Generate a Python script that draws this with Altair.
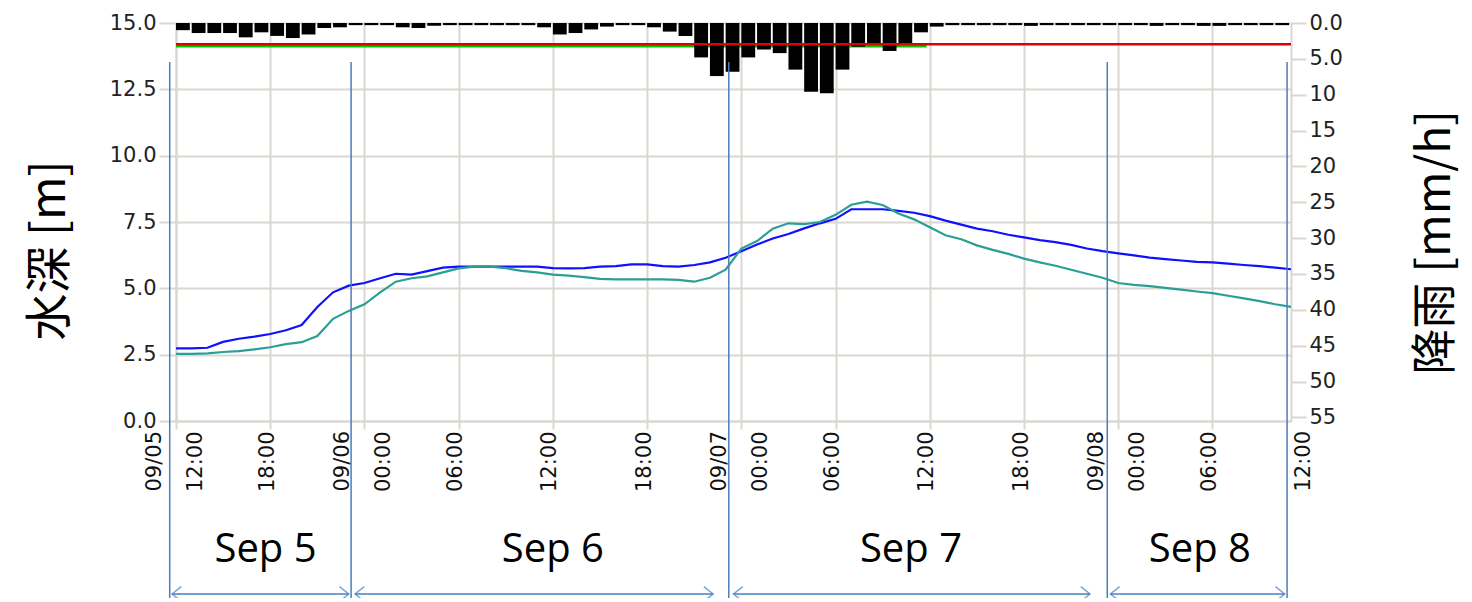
import altair as alt
import pandas as pd

# ---------------- data (hours since 09/05 12:00) ----------------
hours = list(range(0, 72))
obs_level = [2.74, 2.74, 2.76, 2.98, 3.10, 3.18, 3.28, 3.42, 3.62, 4.30,
             4.85, 5.10, 5.20, 5.38, 5.55, 5.52, 5.65, 5.78, 5.82, 5.82,
             5.82, 5.82, 5.82, 5.82, 5.76, 5.75, 5.76, 5.82, 5.84, 5.90,
             5.90, 5.84, 5.82, 5.88, 5.98, 6.15, 6.40, 6.65, 6.88, 7.05,
             7.26, 7.45, 7.62, 7.98, 7.98, 7.98, 7.92, 7.85, 7.72, 7.55,
             7.40, 7.25, 7.15, 7.02, 6.92, 6.82, 6.74, 6.64, 6.50, 6.40,
             6.32, 6.24, 6.16, 6.10, 6.05, 6.00, 5.98, 5.93, 5.88, 5.84, 5.78, 5.72]
calc_level = [2.53, 2.53, 2.55, 2.60, 2.63, 2.70, 2.78, 2.90, 2.97, 3.20,
              3.85, 4.15, 4.40, 4.85, 5.25, 5.38, 5.45, 5.60, 5.75, 5.82,
              5.82, 5.76, 5.66, 5.60, 5.52, 5.48, 5.42, 5.36, 5.34, 5.34,
              5.34, 5.34, 5.32, 5.25, 5.40, 5.70, 6.50, 6.78, 7.25, 7.45,
              7.42, 7.50, 7.77, 8.15, 8.27, 8.14, 7.82, 7.60, 7.30, 7.00,
              6.85, 6.62, 6.45, 6.30, 6.12, 5.98, 5.85, 5.70, 5.55, 5.40,
              5.20, 5.13, 5.08, 5.02, 4.95, 4.88, 4.82, 4.72, 4.62, 4.52, 4.40, 4.30]

rain_hours = list(range(0, 71))
rain = [1.0, 1.4, 1.4, 1.4, 2.0, 1.3, 1.8, 2.1, 1.6, 0.7,
        0.6, 0.3, 0.3, 0.3, 0.6, 0.7, 0.4, 0.3, 0.3, 0.3,
        0.3, 0.3, 0.3, 0.6, 1.6, 1.4, 0.9, 0.5, 0.3, 0.3,
        0.6, 1.2, 1.8, 4.8, 7.4, 6.8, 4.8, 3.7, 4.2, 6.5,
        9.6, 9.8, 6.5, 3.3, 3.0, 3.9, 3.0, 1.3, 0.5, 0.3,
        0.3, 0.3, 0.3, 0.3, 0.4, 0.3, 0.3, 0.3, 0.3, 0.3,
        0.3, 0.3, 0.4, 0.3, 0.3, 0.4, 0.4, 0.3, 0.3, 0.3, 0.3]

time_ticks = list(range(0, 67, 6))
date_hours = [0, 12, 36, 60]
date_labels = ["09/05", "09/06", "09/07", "09/08"]
end_hour = [72]
end_label = ["12:00"]

level_ticks = [0, 2.5, 5, 7.5, 10, 12.5, 15]
rain_ticks = list(range(0, 56, 5))

red_level = 14.2
green_level = 14.12
green_end = 47.8
x_end = 71

day_bounds = [-0.4, 11.15, 35.2, 59.3, 70.75]
arrow_start = [-0.25, 11.4, 35.5, 59.5]
arrow_end = [11.0, 34.2, 58.2, 70.6]
sep_labels = ["Sep 5", "Sep 6", "Sep 7", "Sep 8"]
sep_center = [5.7, 24.0, 46.8, 65.2]

# ---------------- tables ----------------
df_lvl = pd.DataFrame({
    "h": hours * 2,
    "level": obs_level + calc_level,
    "series": ["観測"] * len(hours) + ["計算"] * len(hours),
})
df_rain = pd.DataFrame({"h": rain_hours, "rain": rain})
df_rain["h_end"] = df_rain["h"] + 0.88
df_rain["base"] = 0.0
df_red = pd.DataFrame({"h": [0], "h_end": [x_end], "level": [red_level]})
df_green = pd.DataFrame({"h": [0], "h_end": [green_end], "level": [green_level]})
df_dates = pd.DataFrame({"h": date_hours, "label": date_labels})
df_end = pd.DataFrame({"h": end_hour, "label": end_label})
df_bounds = pd.DataFrame({"h": day_bounds})
df_arrows = pd.DataFrame({"h": arrow_start, "h_end": arrow_end})
df_heads_l = pd.DataFrame({"h": arrow_start})
df_heads_r = pd.DataFrame({"h": arrow_end})
df_sep = pd.DataFrame({"h": sep_center, "label": sep_labels})

# ---------------- layout ----------------
W, H = 1115, 398
GRID = "#dad7d1"
ANNO = "#4a7ebb"
LFONT = "DejaVu Sans"

x_scale = alt.Scale(domain=[0, x_end], nice=False, zero=False)
x_axis = alt.Axis(
    values=time_ticks,
    labelExpr="(((datum.value + 12) % 24) < 10 ? '0' : '') + ((datum.value + 12) % 24) + ':00'",
    labelAngle=270, labelFont=LFONT, labelFontSize=21, labelColor="#111",
    labelPadding=2,
    labelOffset={"condition": {"test": "datum.value % 24 == 12 || datum.value == 0", "value": 19}, "value": -3},
    tickSize=8, tickColor=GRID, tickWidth=2,
    domainColor=GRID, domainWidth=2,
    grid=True, gridColor=GRID, gridWidth=2,
    title="",
)
X = alt.X("h:Q", scale=x_scale, axis=x_axis)

lvl_scale = alt.Scale(domain=[0, 15], nice=False, zero=False)
rain_scale = alt.Scale(domain=[0, 55.5], nice=False, reverse=True)

left_axis = alt.Axis(
    values=level_ticks, format=".1f",
    labelFont=LFONT, labelFontSize=21, labelColor="#222", labelPadding=3,
    tickSize=17, tickColor=GRID, tickWidth=2,
    domainColor=GRID, domainWidth=2,
    grid=True, gridColor=GRID, gridWidth=2,
    title="水深 [m]", titleFont="Noto Sans CJK JP", titleFontSize=47,
    titleFontWeight="normal", titleColor="#000", titleAngle=270,
    titleX=-126, titleY=227, titleAlign="center", titleBaseline="middle",
)
right_axis = alt.Axis(
    orient="right", values=rain_ticks,
    labelExpr="datum.value < 10 ? format(datum.value, '.1f') : format(datum.value, 'd')",
    labelFont=LFONT, labelFontSize=21, labelColor="#222", labelPadding=3,
    tickSize=15, tickColor=GRID, tickWidth=2,
    domainColor=GRID, domainWidth=2, grid=False,
    title="降雨 [mm/h]", titleFont="Noto Sans CJK JP", titleFontSize=46,
    titleFontWeight="normal", titleColor="#000", titleAngle=270,
    titleX=144, titleY=219, titleAlign="center", titleBaseline="middle",
)

green = alt.Chart(df_green).mark_rule(color="#00c800", strokeWidth=2.5).encode(
    x=X, x2="h_end:Q", y=alt.Y("level:Q", scale=lvl_scale, axis=None))

bars = alt.Chart(df_rain).mark_bar(color="#000000").encode(
    x=X, x2="h_end:Q",
    y=alt.Y("rain:Q", scale=rain_scale, axis=right_axis),
    y2="base:Q",
)

red = alt.Chart(df_red).mark_rule(color="#e00000", strokeWidth=2.5).encode(
    x=X, x2="h_end:Q", y=alt.Y("level:Q", scale=lvl_scale, axis=None))

lines = alt.Chart(df_lvl).mark_line(strokeWidth=2.2).encode(
    x=X,
    y=alt.Y("level:Q", scale=lvl_scale, axis=left_axis),
    color=alt.Color("series:N", scale=alt.Scale(domain=["観測", "計算"], range=["#1010ff", "#2b9e96"]), legend=None),
)

date_text = alt.Chart(df_dates).mark_text(
    angle=270, align="right", baseline="middle", dy=-21,
    font=LFONT, fontSize=21, color="#111",
).encode(x=X, y=alt.value(H + 10), text="label:N")

end_text = alt.Chart(df_end).mark_text(
    angle=270, align="right", baseline="middle", dy=-3,
    font=LFONT, fontSize=21, color="#111",
).encode(x=X, y=alt.value(H + 10), text="label:N")

vlines = alt.Chart(df_bounds).mark_rule(color=ANNO, strokeWidth=1.5).encode(
    x=X, y=alt.value(39), y2=alt.value(577))

arrow_y = 571
arrows = alt.Chart(df_arrows).mark_rule(color=ANNO, strokeWidth=1.5).encode(
    x=X, x2="h_end:Q", y=alt.value(arrow_y))
heads_l = alt.Chart(df_heads_l).mark_point(
    shape="M1,-0.8L0,0L1,0.8", filled=False, color=ANNO, strokeWidth=1.5, size=340,
).encode(x=X, y=alt.value(arrow_y))
heads_r = alt.Chart(df_heads_r).mark_point(
    shape="M-1,-0.8L0,0L-1,0.8", filled=False, color=ANNO, strokeWidth=1.5, size=340,
).encode(x=X, y=alt.value(arrow_y))

sep_text = alt.Chart(df_sep).mark_text(
    font="Open Sans", fontSize=40, color="#000", align="center", baseline="middle",
).encode(x=X, y=alt.value(527), text="label:N")

chart = alt.layer(
    green, bars, red, lines, date_text, end_text, vlines, arrows, heads_l, heads_r, sep_text
).resolve_scale(y="independent").properties(
    width=W, height=H,
    padding={"left": 168, "top": 15, "right": 173, "bottom": 177},
    autosize=alt.AutoSizeParams(type="none"),
    background="white",
).configure_view(stroke=None)

chart.save("out.html", embed_options={"renderer": "svg", "actions": False})
